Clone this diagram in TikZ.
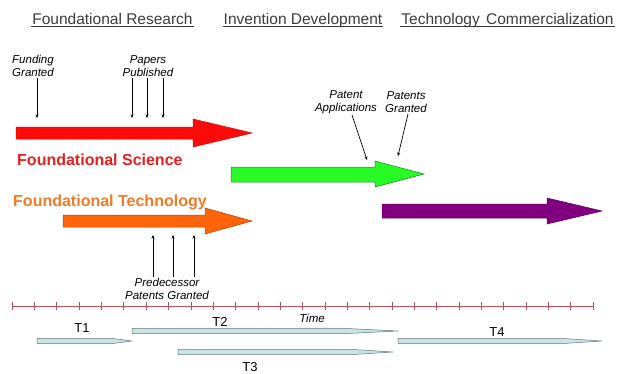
\documentclass[tikz,border=0pt]{standalone}
\usepackage{fontspec}
\setmainfont{Liberation Sans}
\usetikzlibrary{arrows.meta,positioning}
\definecolor{hdrgrey}{RGB}{60,60,60}
\definecolor{scired}{RGB}{255,10,10}
\definecolor{scitext}{RGB}{228,32,32}
\definecolor{techorange}{RGB}{255,100,10}
\definecolor{techtext}{RGB}{240,122,40}
\definecolor{invgreen}{RGB}{40,250,40}
\definecolor{compurple}{RGB}{128,0,128}
\definecolor{axisred}{RGB}{185,80,90}
\definecolor{barfill}{RGB}{200,228,230}
\definecolor{bardraw}{RGB}{100,120,122}

\begin{document}
\begin{tikzpicture}[x=1pt, y=-1pt,
    hdr/.style={font=\fontsize{15.5}{18}\selectfont, text=hdrgrey, inner sep=1pt, anchor=base},
    note/.style={font=\fontsize{11.5}{13.5}\selectfont\itshape, align=center, inner sep=1pt},
    big/.style={font=\fontsize{16}{18}\selectfont\bfseries, inner sep=0pt, anchor=base west},
    tlbl/.style={font=\fontsize{13}{15}\selectfont, inner sep=1pt},
    ptr/.style={-{Stealth[length=3.5pt,width=3pt]}, line width=0.7pt},
    blk/.style={line width=0.5pt, line join=miter},
    bar/.style={fill=barfill, draw=bardraw, line width=0.5pt},
    axis/.style={draw=axisred, line width=0.8pt}
]
    \useasboundingbox (0,0) rectangle (618,373);

    % Phase headings
    \node[hdr] (h1) at (112.5,24) {Foundational Research};
    \node[hdr] (h2) at (303,24) {Invention Development};
    \node[hdr] (h3) at (507.5,24) {Technology\hspace{2pt} Commercialization};
    \foreach \h in {h1,h2,h3}
        \draw[hdrgrey, line width=0.6pt] ([yshift=-2.5pt]\h.base west) -- ([yshift=-2.5pt]\h.base east);

    % Block arrows
    \filldraw[blk, fill=scired, draw=scired!85!black]
        (16,127) -- (193,127) -- (193,119) -- (252,133) -- (193,147) -- (193,139) -- (16,139) -- cycle;
    \filldraw[blk, fill=invgreen, draw=invgreen!55!black]
        (231,167) -- (375,167) -- (375,161) -- (424,174) -- (375,187) -- (375,182) -- (231,182) -- cycle;
    \filldraw[blk, fill=compurple, draw=compurple!70!black]
        (382,204) -- (547,204) -- (547,198) -- (602,211) -- (547,224) -- (547,218) -- (382,218) -- cycle;
    \filldraw[blk, fill=techorange, draw=techorange!70!black]
        (63,215) -- (205,215) -- (205,208) -- (252,221) -- (205,234) -- (205,227) -- (63,227) -- cycle;

    \node[big, text=scitext] (sci) at (17,165) {Foundational Science};
    \node[big, text=techtext] (tech) at (13,206) {Foundational Technology};

    % Event labels
    \node[note] (fund) at (33,66) {Funding\\Granted};
    \node[note] (pap)  at (148,66) {Papers\\Published};
    \node[note] (papp) at (346,102) {Patent\\Applications};
    \node[note] (pgr)  at (406,102) {Patents\\Granted};
    \node[note] (pred) at (167,289) {Predecessor\\Patents Granted};

    \coordinate (fundtip) at (37,118);
    \draw[ptr] (fundtip |- fund.south) -- (fundtip);
    \foreach \x [count=\i] in {132,147,163} {
        \coordinate (pap\i) at (\x,118);
        \draw[ptr] (pap\i |- pap.south) -- (pap\i);
    }
    \foreach \x [count=\i] in {153,173,194} {
        \coordinate (pred\i) at (\x,235);
        \draw[ptr] (pred\i |- pred.north) -- (pred\i);
    }
    \coordinate (papptip) at (367,160);
    \coordinate (pgrtip) at (398,156);
    \draw[ptr] ([xshift=6pt]papp.south) -- (papptip);
    \draw[ptr] ([xshift=2pt]pgr.south) -- (pgrtip);

    % Time axis
    \draw[axis] (12,306) -- (593,306);
    \foreach \k in {0,...,26}
        \draw[axis, line width=0.6pt] ({12+22.35*\k},302) -- ++(0,8);
    \node[note, font=\fontsize{11.5}{13}\selectfont\itshape] (time) at (312,318) {Time};

    % Phase durations
    \foreach \a/\b/\c/\y in {37/112/132/341, 132/345/398/331, 178/352/393/352, 398/562/602/341}
        \draw[bar] (\a,{\y-2.6}) -- (\b,{\y-2.6}) -- (\c,\y) -- (\b,{\y+2.6}) -- (\a,{\y+2.6}) -- cycle;
    \node[tlbl] (t1) at (82,328) {T1};
    \node[tlbl] (t2) at (220,322) {T2};
    \node[tlbl] (t3) at (250,367) {T3};
    \node[tlbl] (t4) at (497,332) {T4};
\end{tikzpicture}
\end{document}
